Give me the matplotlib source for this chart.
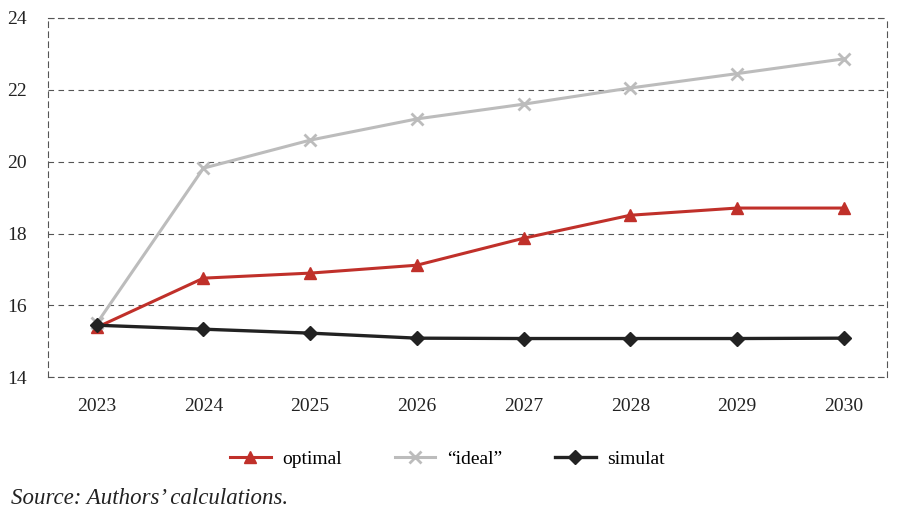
import numpy as np
import matplotlib.pyplot as plt

plt.rcParams['font.family'] = ['Liberation Serif', 'DejaVu Serif']

years = ["2023", "2024", "2025", "2026", "2027", "2028", "2029", "2030"]
optimal = [15.39, 16.76, 16.90, 17.12, 17.87, 18.51, 18.71, 18.71]
ideal = [15.50, 19.82, 20.60, 21.19, 21.60, 22.05, 22.45, 22.86]
simulat = [15.45, 15.34, 15.23, 15.09, 15.08, 15.08, 15.08, 15.09]

fig = plt.figure(figsize=(9, 5.12), dpi=100)
ax = fig.add_axes([0.053, 0.263, 0.933, 0.702])

x = np.arange(len(years))
ax.plot(x, optimal, color="#c0302a", lw=2.2, marker="^", ms=8, label="optimal")
ax.plot(x, ideal, color="#bcbcbc", lw=2.2, marker="x", ms=8, mew=2, label="\u201cideal\u201d")
ax.plot(x, simulat, color="#222222", lw=2.4, marker="D", ms=7, label="simulat")

ax.set_xlim(-0.46, 7.41)
ax.set_ylim(14, 24)
ax.set_yticks([14, 16, 18, 20, 22, 24])
ax.set_xticks(x)
ax.set_xticklabels(years)
ax.tick_params(length=0, labelsize=14, colors="#222222")
ax.tick_params(axis="x", pad=15)
ax.tick_params(axis="y", pad=15)
ax.grid(axis="y", color="#555555", ls=(0, (5, 4)), lw=0.8)
for s in ax.spines.values():
    s.set_color("#555555")
    s.set_linestyle((0, (5, 4)))
    s.set_linewidth(0.8)

ax.legend(loc="upper center", bbox_to_anchor=(0.476, -0.155), ncol=3, frameon=False,
          fontsize=14, handlelength=2.1, handletextpad=0.6, columnspacing=2.7)

fig.text(0.012, 0.016, "Source: Authors\u2019 calculations.", fontsize=16.5, style="italic",
         color="#222222")

fig.savefig("out.png", dpi=100)
